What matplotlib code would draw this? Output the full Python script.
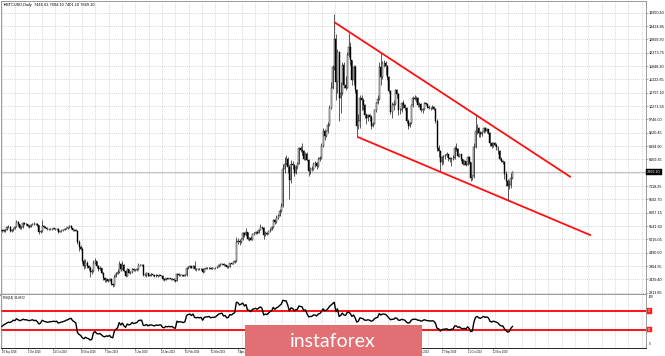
import numpy as np
import matplotlib
matplotlib.use("Agg")
import matplotlib.pyplot as plt
from matplotlib.patches import Rectangle
from matplotlib.transforms import blended_transform_factory

plt.rcParams["font.family"] = ["Liberation Sans", "DejaVu Sans"]

W, H = 665, 356

# daily bars, BTCUSD, 10 Sep 2018 .. 28 Nov 2019 (weekday bars)
first_open = 5360
closes = [
    5380, 5350, 5390, 5500, 5520, 5330, 5390, 5440, 5520, 5720,
    5620, 5480, 5500, 5660, 5620, 5610, 5540, 5510, 5590, 5630,
    5640, 5620, 5570, 5300, 5340, 5550, 5500, 5480, 5430, 5420,
    5440, 5430, 5450, 5420, 5430, 5320, 5330, 5370, 5390, 5430,
    5450, 5490, 5550, 5450, 5390, 5400, 5360, 4900, 4700, 4650,
    4150, 3950, 4100, 3950, 3900, 3720, 3750, 4100, 4150, 3950,
    3850, 3880, 3700, 3480, 3400, 3440, 3390, 3460, 3260, 3210,
    3550, 3660, 3730, 4060, 3860, 4000, 3760, 3580, 3830, 3710,
    3730, 3860, 3790, 3800, 3830, 3990, 4000, 4010, 3630, 3620,
    3680, 3580, 3620, 3640, 3600, 3560, 3600, 3570, 3600, 3590,
    3450, 3420, 3480, 3460, 3480, 3450, 3460, 3400, 3380, 3650,
    3600, 3620, 3600, 3580, 3600, 3880, 3920, 3960, 3900, 3980,
    3850, 3830, 3840, 3830, 3840, 3740, 3860, 3880, 3890, 3900,
    3860, 3880, 3870, 3880, 3940, 4000, 4030, 4060, 3990, 4000,
    3920, 3930, 4070, 4060, 4120, 4150, 4900, 4970, 4900, 5030,
    5250, 5180, 5300, 5030, 5070, 5000, 5220, 5260, 5300, 5270,
    5400, 5500, 5450, 5200, 5270, 5240, 5330, 5400, 5500, 5760,
    5700, 5850, 5950, 6150, 6350, 7800, 7990, 8200, 7880, 7350,
    8000, 7950, 7650, 7880, 7990, 8600, 8550, 8500, 8200, 8400,
    8150, 7700, 7800, 7790, 8000, 8010, 7900, 8180, 8230, 8700,
    9300, 9100, 9270, 9530, 10200, 11000, 11800, 12900, 11200, 12400,
    10600, 10800, 11900, 11100, 11000, 12300, 12600, 12100, 11300, 11800,
    10900, 9470, 9700, 10600, 10500, 10300, 9900, 9800, 9900, 9850,
    9500, 9580, 10100, 10400, 10530, 11800, 11400, 11950, 11970, 11850,
    11400, 10850, 10050, 10300, 10350, 10900, 10750, 10100, 10120, 10400,
    10300, 10200, 9700, 9500, 9600, 10300, 10600, 10550, 10600, 10300,
    10350, 10100, 10150, 10400, 10360, 10250, 10200, 10180, 10250, 10170,
    9700, 8600, 8500, 8050, 8250, 8300, 8330, 8380, 8240, 8170,
    8200, 8210, 8600, 8580, 8300, 8370, 8170, 8000, 8100, 7950,
    8250, 8050, 7450, 7500, 8650, 9300, 9400, 9200, 9150, 9250,
    9400, 9300, 9350, 9200, 8800, 8700, 8800, 8750, 8650, 8500,
    8200, 8100, 8080, 7600, 7300, 7100, 7150, 7447, 7669.10,
]
highs = [
    5430, 5420, 5440, 5540, 5580, 5540, 5420, 5470, 5560, 5790,
    5740, 5640, 5540, 5700, 5690, 5660, 5630, 5570, 5620, 5680,
    5690, 5670, 5650, 5590, 5380, 5780, 5580, 5530, 5500, 5460,
    5470, 5470, 5480, 5470, 5460, 5450, 5360, 5400, 5430, 5470,
    5480, 5520, 5590, 5570, 5470, 5440, 5420, 5380, 4980, 4780,
    4700, 4250, 4250, 4150, 4020, 3950, 3850, 4200, 4300, 4180,
    4000, 3950, 3900, 3720, 3520, 3500, 3470, 3500, 3480, 3290,
    3600, 3720, 3850, 4150, 4080, 4150, 4030, 3800, 3880, 3850,
    3780, 3900, 3880, 3850, 3870, 4080, 4050, 4060, 4030, 3680,
    3720, 3700, 3660, 3680, 3660, 3620, 3640, 3620, 3640, 3630,
    3600, 3480, 3510, 3500, 3510, 3500, 3480, 3480, 3420, 3690,
    3680, 3660, 3640, 3620, 3640, 3920, 3980, 4000, 3980, 4020,
    4170, 3880, 3870, 3870, 3870, 3870, 3880, 3910, 3930, 3940,
    3920, 3910, 3900, 3910, 3970, 4040, 4070, 4090, 4080, 4030,
    4020, 3960, 4090, 4100, 4150, 4200, 5100, 5080, 5050, 5080,
    5300, 5300, 5460, 5320, 5110, 5140, 5250, 5300, 5340, 5330,
    5440, 5630, 5520, 5490, 5350, 5300, 5360, 5460, 5540, 5810,
    5800, 5960, 6000, 6200, 6450, 8000, 8250, 8350, 8280, 7950,
    8150, 8100, 8000, 7950, 8050, 8650, 8700, 8800, 8550, 8450,
    8450, 8170, 7850, 7900, 8050, 8100, 8050, 8250, 8300, 8800,
    9400, 9350, 9300, 9650, 10300, 11200, 11900, 13880, 13100, 12500,
    12450, 11200, 12000, 12000, 11450, 12400, 13150, 12800, 12100, 11900,
    11900, 10950, 9950, 10700, 10700, 10600, 10350, 10000, 9950, 9950,
    9900, 9650, 10150, 10450, 10700, 12000, 12350, 12050, 12100, 12050,
    11900, 11450, 10900, 10450, 10500, 10950, 10950, 10800, 10200, 10450,
    10500, 10350, 10250, 9750, 9650, 10350, 10650, 10700, 10650, 10620,
    10450, 10400, 10200, 10450, 10450, 10380, 10300, 10250, 10300, 10280,
    10200, 9750, 8750, 8550, 8300, 8350, 8400, 8450, 8400, 8250,
    8250, 8350, 8700, 8800, 8600, 8400, 8400, 8200, 8150, 8120,
    8300, 8300, 8080, 7550, 8800, 9950, 9550, 9450, 9300, 9300,
    9450, 9450, 9400, 9380, 9250, 8850, 8850, 8850, 8800, 8700,
    8550, 8250, 8150, 8100, 7700, 7400, 7350, 7650, 7694.10,
]
lows = [
    5310, 5300, 5320, 5370, 5470, 5290, 5300, 5360, 5420, 5500,
    5560, 5430, 5440, 5480, 5580, 5570, 5510, 5470, 5490, 5570,
    5600, 5580, 5540, 5240, 5260, 5320, 5460, 5450, 5400, 5380,
    5400, 5400, 5410, 5390, 5390, 5280, 5290, 5310, 5350, 5370,
    5410, 5420, 5470, 5420, 5360, 5360, 5330, 4850, 4550, 4580,
    4080, 3850, 3900, 3880, 3820, 3520, 3650, 3720, 4050, 3900,
    3780, 3800, 3650, 3420, 3330, 3350, 3340, 3360, 3220, 3150,
    3190, 3520, 3640, 3700, 3780, 3850, 3720, 3550, 3560, 3680,
    3660, 3700, 3760, 3750, 3760, 3810, 3950, 3960, 3560, 3570,
    3540, 3560, 3560, 3590, 3570, 3530, 3540, 3550, 3560, 3560,
    3420, 3390, 3400, 3440, 3440, 3430, 3430, 3370, 3350, 3370,
    3570, 3580, 3580, 3560, 3560, 3590, 3850, 3900, 3870, 3880,
    3820, 3760, 3800, 3800, 3810, 3700, 3720, 3840, 3860, 3860,
    3840, 3850, 3850, 3850, 3870, 3920, 3980, 4010, 3960, 3960,
    3900, 3900, 3910, 4030, 4050, 4100, 4140, 4850, 4800, 4880,
    5000, 5120, 5150, 4980, 4950, 4980, 4990, 5180, 5230, 5240,
    5250, 5390, 5410, 5020, 5150, 5180, 5220, 5300, 5380, 5480,
    5620, 5680, 5820, 5920, 6100, 6300, 7650, 7950, 7650, 6600,
    7250, 7800, 7500, 7600, 7800, 7980, 8450, 8350, 8150, 8150,
    8100, 7500, 7600, 7700, 7750, 7850, 7800, 7850, 8100, 8200,
    8650, 8950, 9050, 9200, 9500, 10150, 10950, 11700, 10500, 10800,
    9700, 10000, 10700, 11000, 10900, 11000, 12200, 11900, 11100, 11100,
    10800, 9050, 9350, 9400, 10100, 10100, 9800, 9550, 9700, 9700,
    9380, 9450, 9550, 10050, 10350, 10500, 11100, 11350, 11800, 11500,
    11300, 10800, 9950, 9800, 10100, 10300, 10600, 9900, 9950, 10050,
    10200, 10100, 9600, 9350, 9450, 9550, 10250, 10500, 10450, 10250,
    10250, 10050, 10000, 10100, 10300, 10200, 10150, 10100, 10150, 10100,
    9600, 8500, 8250, 7700, 7950, 8000, 8200, 8250, 8100, 8050,
    7900, 8150, 8200, 8500, 8250, 8250, 8100, 7950, 7950, 7900,
    7930, 8000, 7300, 7350, 7450, 8600, 9150, 9050, 9050, 9100,
    9200, 9250, 9200, 9150, 8700, 8600, 8650, 8700, 8550, 8400,
    8150, 8050, 8000, 7400, 7100, 6550, 7000, 7050, 7401.10,
]
rsi = [
    37, 40, 42, 44, 46, 45, 47, 50, 49, 53,
    51, 49, 50, 52, 51, 51, 50, 49, 50, 51,
    49, 50, 47, 42, 44, 50, 48, 47, 46, 46,
    47, 47, 48, 47, 48, 44, 45, 46, 47, 48,
    50, 51, 53, 54, 49, 47, 44, 24, 20, 18,
    13, 11, 14, 12, 11, 8, 10, 24, 26, 22,
    21, 22, 19, 16, 15, 17, 16, 18, 14, 13,
    27, 31, 34, 45, 40, 44, 38, 35, 42, 40,
    41, 45, 43, 44, 45, 49, 50, 50, 39, 39,
    41, 38, 40, 40, 39, 38, 40, 39, 40, 40,
    35, 34, 37, 36, 37, 36, 37, 34, 33, 48,
    46, 47, 46, 45, 47, 60, 62, 63, 60, 63,
    56, 55, 56, 55, 56, 50, 56, 57, 57, 58,
    55, 56, 56, 57, 60, 63, 64, 65, 59, 60,
    55, 56, 62, 61, 64, 66, 88, 87, 82, 84,
    86, 80, 83, 71, 71, 68, 73, 74, 75, 73,
    76, 78, 75, 61, 63, 62, 65, 68, 70, 77,
    73, 76, 78, 81, 84, 92, 91, 91, 82, 70,
    76, 75, 70, 72, 73, 80, 79, 78, 70, 72,
    64, 57, 58, 58, 61, 61, 59, 63, 64, 68,
    74, 70, 71, 74, 79, 82, 85, 88, 68, 74,
    58, 60, 65, 61, 60, 66, 67, 64, 58, 61,
    55, 46, 48, 55, 54, 53, 50, 50, 51, 50,
    48, 49, 53, 55, 56, 64, 61, 63, 63, 62,
    59, 55, 51, 52, 52, 55, 54, 50, 50, 52,
    51, 50, 46, 44, 45, 50, 52, 52, 52, 50,
    50, 48, 49, 51, 50, 49, 49, 48, 49, 48,
    44, 33, 32, 27, 30, 31, 31, 32, 30, 30,
    31, 31, 38, 38, 35, 36, 33, 32, 33, 31,
    36, 33, 26, 27, 46, 56, 58, 55, 54, 56,
    58, 56, 57, 55, 48, 46, 48, 47, 46, 44,
    40, 38, 38, 32, 28, 25, 26, 33, 36.8672,
]

# channel drawn on the chart (bar index, price)
upper_line_x = [207.5, 353.9]
upper_line_y = [13557, 7487]
lower_line_x = [222.0, 366.4]
lower_line_y = [9040, 5188]

# right-hand price scale (the 7643.80 level sits under the price box)
price_ticks = [2913.85, 3439.40, 3964.95, 4490.50, 5016.05, 5541.60, 6067.15,
               6592.70, 7118.25, 8169.35, 8694.90, 9220.45, 9746.00,
               10271.55, 10797.10, 11322.65, 11848.20, 12373.75, 12899.30,
               13424.85, 13950.40]
price_tick_labels = [f"{v:.2f}" for v in price_ticks]
grid_levels = price_ticks + [7643.80]

date_pos = [0, 16, 32, 49, 64, 83, 99, 114, 130, 147, 163, 179, 195, 211,
            227, 243, 258, 274, 290, 306]
date_labels = ["10 Sep 2018", "2 Oct 2018", "24 Oct 2018", "16 Nov 2018",
               "7 Dec 2018", "3 Jan 2019", "24 Jan 2019", "15 Feb 2019",
               "11 Mar 2019", "3 Apr 2019", "25 Apr 2019", "17 May 2019",
               "10 Jun 2019", "2 Jul 2019", "24 Jul 2019", "15 Aug 2019",
               "5 Sep 2019", "27 Sep 2019", "21 Oct 2019", "12 Nov 2019"]

last_price = 7669.10
rsi_levels = [70, 30]


def px_rect(x0, y0, x1, y1):
    """pixel box (top-down) -> figure fraction rect"""
    return [x0 / W, 1 - y1 / H, (x1 - x0) / W, (y1 - y0) / H]


fig = plt.figure(figsize=(W / 100, H / 100), dpi=100)
ax = fig.add_axes(px_rect(1, 1, 646, 295))
ax2 = fig.add_axes(px_rect(1, 295, 646, 348), sharex=ax)

ax.set_xlim(-0.62, 401.2)
ax.set_ylim(2823.2, 14411.5)
ax2.set_ylim(-8.6, 103.2)

# grid
grid_kw = dict(colors="#c9c9c9", linewidths=0.5, linestyles=(0, (1.5, 1.5)), zorder=0)
grid_x = np.arange(0, 402, 8.3)
for a in (ax, ax2):
    a.vlines(grid_x, 0, 1, transform=a.get_xaxis_transform(), **grid_kw)
ax.hlines(grid_levels, 0, 1, transform=ax.get_yaxis_transform(), **grid_kw)

# current price line
ax.axhline(last_price, color="#c4c4c4", lw=0.8, zorder=1)

# candles
idx = np.arange(len(closes))
c = np.array(closes, dtype=float)
o = np.concatenate([[first_open], c[:-1]])
up = c >= o
ax.vlines(idx, lows, highs, colors="black", linewidths=0.45, zorder=2)
ax.bar(idx[up], (c - o)[up], bottom=o[up], width=0.62, color="white",
       edgecolor="black", linewidth=0.3, zorder=3)
ax.bar(idx[~up], (o - c)[~up], bottom=c[~up], width=0.62, color="black",
       edgecolor="black", linewidth=0.3, zorder=3)

# channel lines
ax.plot(upper_line_x, upper_line_y, color="#ff1010", lw=1.3, zorder=4)
ax.plot(lower_line_x, lower_line_y, color="#ff1010", lw=1.3, zorder=4)

# right price axis
ax.yaxis.tick_right()
ax.set_yticks(price_ticks)
ax.set_yticklabels(price_tick_labels)
ax.tick_params(axis="y", length=1.3, width=0.4, pad=0.8, labelsize=2.7,
               color="#777777", labelcolor="black")
ax.tick_params(axis="x", bottom=False, labelbottom=False)

trans = blended_transform_factory(ax.transAxes, ax.transData)
ax.text(1.002, last_price, f"{last_price:.2f}", transform=trans, ha="left",
        va="center", fontsize=2.7, color="white", clip_on=False, zorder=10,
        bbox=dict(boxstyle="square,pad=0.35", fc="black", ec="black", lw=0.3))

ax.text(0.002, 0.994, "\u25bc", transform=ax.transAxes, ha="left", va="top",
        fontsize=2.6, color="black")
ax.text(0.008, 0.994, "BTCUSD,Daily  7446.63 7694.10 7401.10 7669.10",
        transform=ax.transAxes, ha="left", va="top", fontsize=2.8, color="black")

for s in ax.spines.values():
    s.set_color("#8a8a8a")
    s.set_linewidth(0.6)
ax.spines["bottom"].set_color("#9d9d9d")
ax.spines["bottom"].set_linewidth(1.6)

# RSI panel
ax2.plot(idx, rsi, color="black", lw=1.0, zorder=3)
for lvl in rsi_levels:
    ax2.axhline(lvl, color="#ff1010", lw=1.4, zorder=2)
ax2.set_yticks([])
ax2.set_xticks(date_pos)
ax2.set_xticklabels(date_labels, ha="left")
ax2.tick_params(axis="x", length=1.2, width=0.4, pad=0.5, labelsize=1.8,
                color="#555555")
trans2 = blended_transform_factory(ax2.transAxes, ax2.transData)
ax2.text(1.004, 100, "100", transform=trans2, ha="left", va="center",
         fontsize=2.1, clip_on=False)
ax2.text(1.004, 0, "0", transform=trans2, ha="left", va="center",
         fontsize=2.1, clip_on=False)
for lvl in rsi_levels:
    ax2.text(1.003, lvl, str(lvl), transform=trans2, ha="left", va="center",
             fontsize=1.9, color="white", clip_on=False,
             bbox=dict(boxstyle="square,pad=0.3", fc="#ff2020", ec="#ff2020", lw=0.3))
ax2.text(0.003, 0.975, f"RSI(14) {rsi[-1]:.4f}",
         transform=ax2.transAxes, ha="left", va="top", fontsize=2.2)
for s in ax2.spines.values():
    s.set_color("#8a8a8a")
    s.set_linewidth(0.6)
ax2.spines["top"].set_visible(False)
ax2.spines["bottom"].set_color("black")

# watermark
fig.patches.append(Rectangle((245 / W, 0), (422 - 245) / W, (356 - 325) / H,
                             transform=fig.transFigure, fc="#e16f73", ec="none",
                             zorder=10))
fig.text(290 / W, 1 - 347 / H, "instaforex", color="white", fontsize=14,
         family="Lato", ha="left", va="baseline", zorder=11)

fig.savefig("out.png", dpi=100)
